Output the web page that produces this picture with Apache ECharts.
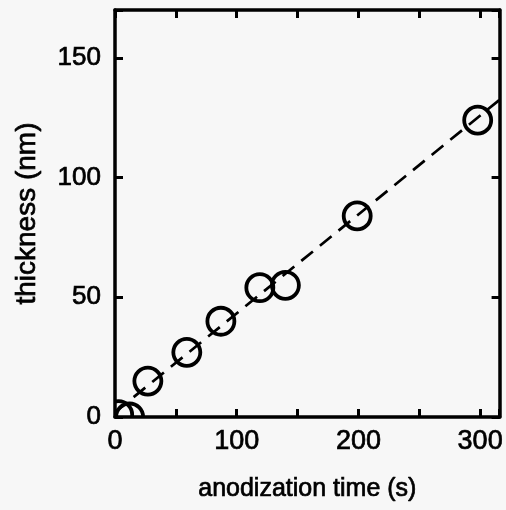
<!DOCTYPE html>
<html>
<head>
<meta charset="utf-8">
<script src="https://cdn.jsdelivr.net/npm/echarts@6/dist/echarts.min.js"></script>
<style>
html,body{margin:0;padding:0;background:#f7f7f7;}
#c{width:506px;height:510px;}
</style>
</head>
<body>
<div id="c"></div>
<script>
// anodization time (s) and measured oxide thickness (nm)
var times = [3, 12, 27, 59, 87, 119, 140, 199, 298];
var thickness = [1, 0, 15, 27, 40, 54, 55, 84, 124];
// linear fit (dashed line)
var fitX = [0, 316];
var fitY = [2, 132.5];
var xTicksShown = [0, 100, 200, 300];
var yTicksShown = [0, 50, 100, 150];

var chart = echarts.init(document.getElementById('c'), null, {renderer: 'canvas'});
var FONT = 'Liberation Sans';
var axisCommon = {
  axisLine: {show: true, onZero: false, lineStyle: {color: '#000', width: 3.5}},
  axisTick: {show: true, inside: true, length: 8, lineStyle: {color: '#000', width: 3}},
  splitLine: {show: false}
};
var txt = {fontFamily: FONT, color: '#000', textBorderColor: '#000', textBorderWidth: 0.7};
var option = {
  backgroundColor: '#f7f7f7',
  animation: false,
  grid: {left: 115, right: 3, top: 10, bottom: 93},
  xAxis: [
    Object.assign({}, axisCommon, {
      type: 'value', position: 'bottom', min: 0, max: 316, interval: 50,
      name: 'anodization time (s)', nameLocation: 'middle', nameGap: 60,
      nameTextStyle: Object.assign({fontSize: 25}, txt),
      axisLabel: Object.assign({
        show: true, margin: 11, fontSize: 27,
        formatter: function (v) { return xTicksShown.indexOf(v) >= 0 ? String(v) : ''; }
      }, txt)
    }),
    Object.assign({}, axisCommon, {
      type: 'value', position: 'top', min: 0, max: 316, interval: 50,
      axisLabel: {show: false}
    })
  ],
  yAxis: [
    Object.assign({}, axisCommon, {
      type: 'value', position: 'left', min: 0, max: 170, interval: 50,
      name: 'thickness (nm)', nameLocation: 'middle', nameGap: 74,
      nameTextStyle: Object.assign({fontSize: 28}, txt),
      axisLabel: Object.assign({
        show: true, margin: 14, fontSize: 26,
        formatter: function (v) { return yTicksShown.indexOf(v) >= 0 ? String(v) : ''; }
      }, txt)
    }),
    Object.assign({}, axisCommon, {
      type: 'value', position: 'right', min: 0, max: 170, interval: 50,
      axisLabel: {show: false}
    })
  ],
  series: [
    {
      type: 'line',
      data: fitX.map(function (x, i) { return [x, fitY[i]]; }),
      showSymbol: false,
      symbol: 'none',
      clip: true,
      z: 2,
      lineStyle: {color: '#000', width: 2.7, type: [15, 9]}
    },
    {
      type: 'custom',
      clip: true,
      z: 3,
      data: times.map(function (t, i) { return [t, thickness[i]]; }),
      renderItem: function (params, api) {
        var p = api.coord([api.value(0), api.value(1)]);
        return {
          type: 'circle',
          shape: {cx: p[0], cy: p[1], r: 13.5},
          style: {fill: 'none', stroke: '#000', lineWidth: 3.8}
        };
      }
    }
  ]
};
chart.setOption(option);
</script>
</body>
</html>
